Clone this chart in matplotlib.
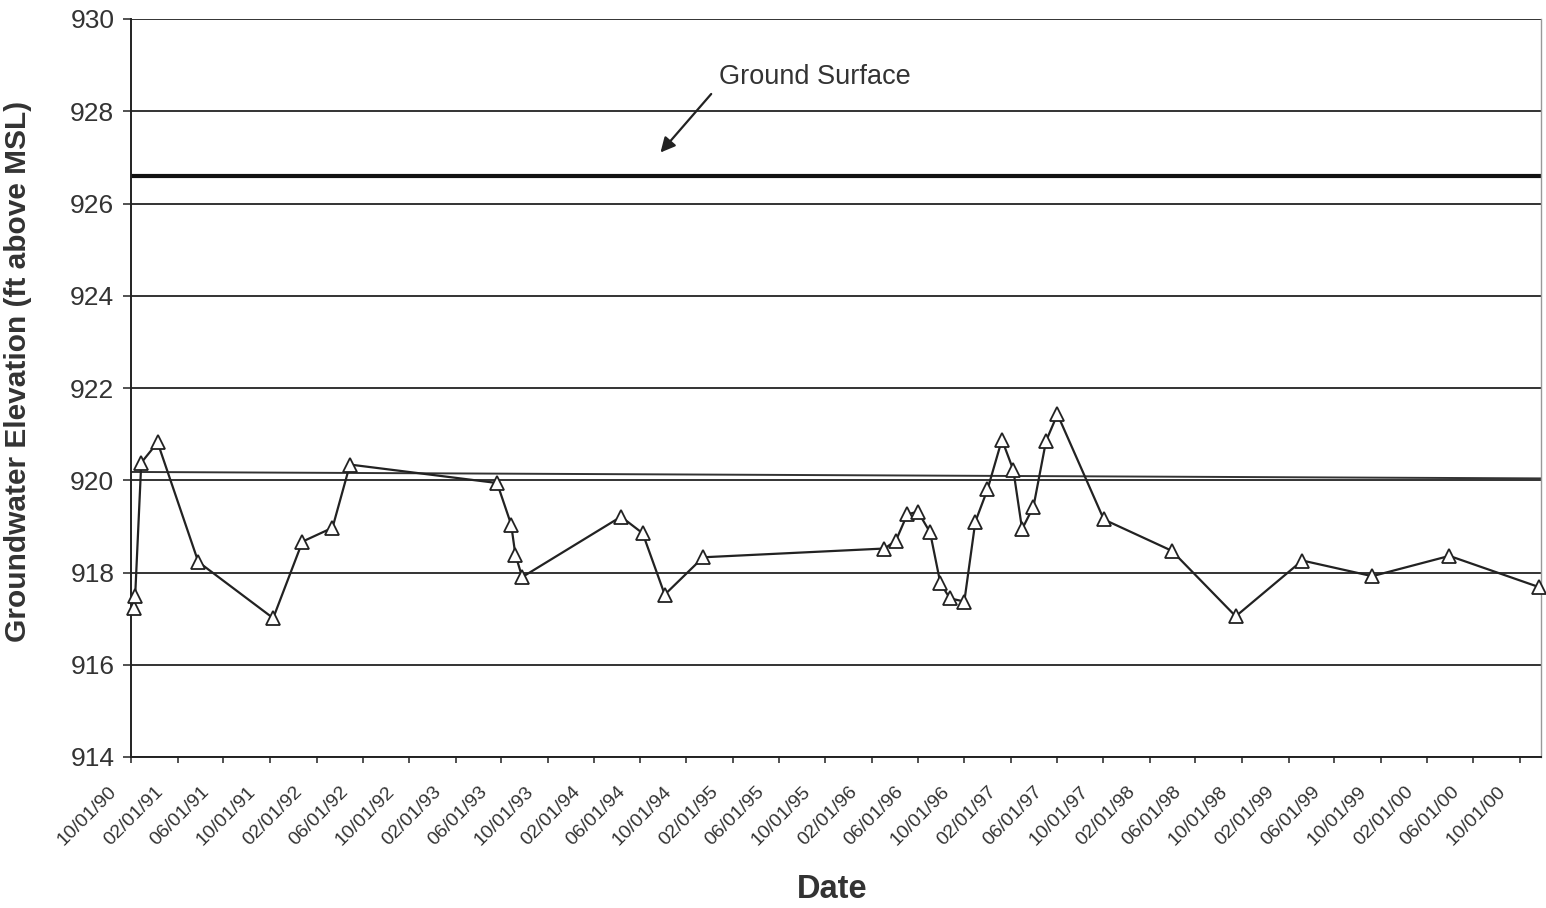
import matplotlib
matplotlib.use("Agg")
import matplotlib.pyplot as plt
import matplotlib.transforms as mtransforms
import numpy as np
import pandas as pd

# ---- data ----
dates = ["1990-10-08", "1990-10-12", "1990-10-28", "1990-12-10", "1991-03-27",
         "1991-10-10", "1991-12-26", "1992-03-14", "1992-04-29", "1993-05-21",
         "1993-06-27", "1993-07-08", "1993-07-26", "1994-04-12", "1994-06-08",
         "1994-08-05", "1994-11-14", "1996-03-05", "1996-04-04", "1996-05-04",
         "1996-06-01", "1996-07-03", "1996-07-30", "1996-08-24", "1996-10-01",
         "1996-10-30", "1996-12-01", "1997-01-08", "1997-02-07", "1997-03-02",
         "1997-04-01", "1997-05-04", "1997-06-03", "1997-10-03", "1998-03-31",
         "1998-09-15", "1999-03-09", "1999-09-09", "2000-03-30", "2000-11-22"]
elevation = [917.22, 917.50, 920.38, 920.82, 918.23,
             917.01, 918.67, 918.97, 920.34, 919.94,
             919.04, 918.39, 917.90, 919.21, 918.85,
             917.52, 918.33, 918.52, 918.69, 919.26,
             919.32, 918.87, 917.77, 917.44, 917.37,
             919.10, 919.80, 920.88, 920.22, 918.94,
             919.43, 920.85, 921.43, 919.15, 918.47,
             917.05, 918.26, 917.92, 918.36, 917.68]

ground_surface = 926.6
ref_line_dates = ["1990-10-01", "2000-11-26"]
ref_line_values = [920.18, 920.04]

tick_dates = pd.date_range("1990-10-01", "2000-10-01", freq="4MS")
tick_labels = [d.strftime("%m/%d/%y") for d in tick_dates]
y_ticks = [914, 916, 918, 920, 922, 924, 926, 928, 930]

x_start = pd.Timestamp("1990-10-01")
x_end = pd.Timestamp("2000-11-26")

# ---- figure ----
plt.rcParams['font.family'] = ['Liberation Sans', 'DejaVu Sans']
fig = plt.figure(figsize=(15.46, 9.08), dpi=100)
ax = fig.add_axes([131 / 1546, 1 - 757 / 908, (1541 - 131) / 1546, (757 - 19) / 908])

x = pd.to_datetime(dates)
ax.set_xlim(x_start, x_end)
ax.set_ylim(914, 930)

# gridlines
ax.set_yticks(y_ticks)
ax.yaxis.grid(True, color="#333333", linewidth=1.4)
ax.set_axisbelow(True)

# ground surface
ax.axhline(ground_surface, color="#111111", linewidth=3.0, zorder=2)
# extra near-horizontal line
ax.plot(pd.to_datetime(ref_line_dates), ref_line_values, color="#333333", linewidth=1.4, zorder=2)

# data
ax.plot(x, elevation, color="#222222", linewidth=1.6, marker="^", markersize=10,
        markerfacecolor="white", markeredgecolor="#222222", markeredgewidth=1.3,
        zorder=4, clip_on=False)

# annotation
ax.annotate("", xy=(pd.Timestamp("1994-07-20"), 927.06),
            xytext=(pd.Timestamp("1994-12-10"), 928.42),
            arrowprops=dict(arrowstyle="-|>", color="#222222", lw=1.6, mutation_scale=22))
ax.text(pd.Timestamp("1994-12-26"), 928.75, "Ground Surface", fontsize=19.5,
        color="#333333", ha="left", va="center")

# ticks
ax.set_xticks(tick_dates)
ax.set_xticklabels(tick_labels, rotation=45, ha="right", va="top",
                   fontsize=14, color="#333333")
ax.tick_params(axis="x", direction="out", length=4.5, width=1.2, pad=12, colors="#333333")
ax.tick_params(axis="y", direction="out", length=6, width=1.2, pad=6, labelsize=19,
               colors="#333333")
offset = mtransforms.ScaledTranslation(-11 / 100, -3 / 100, fig.dpi_scale_trans)
for lab in ax.get_xticklabels():
    lab.set_transform(lab.get_transform() + offset)

for side in ["left", "bottom"]:
    ax.spines[side].set_color("#222222")
    ax.spines[side].set_linewidth(1.4)
ax.spines["right"].set_color("#999999")
ax.spines["right"].set_linewidth(1.0)
ax.spines["top"].set_visible(False)

fig.text(18 / 1546, 1 - 371 / 908, "Groundwater Elevation (ft above MSL)", rotation=90,
         fontsize=21.5, fontweight="bold", color="#333333", ha="center", va="center")
fig.text(832 / 1546, 1 - 890 / 908, "Date", fontsize=23.5, fontweight="bold",
         color="#333333", ha="center", va="center")

fig.savefig("out.png", dpi=100, facecolor="white")
